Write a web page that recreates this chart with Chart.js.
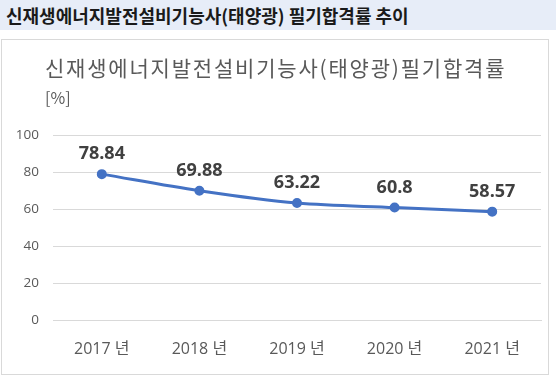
<!DOCTYPE html>
<html><head><meta charset="utf-8">
<script src="https://cdn.jsdelivr.net/npm/chart.js@4.4.1/dist/chart.umd.min.js"></script>
<style>
html,body{margin:0;padding:0;background:#fff;width:556px;height:382px;overflow:hidden;}
#hdr{position:absolute;left:0;top:0;width:556px;height:30px;background:#e7edf8;}
#hdr span{position:absolute;left:6px;top:2px;font:bold 18px "Noto Sans CJK KR",sans-serif;color:#1a1a1a;white-space:nowrap;}
#box{position:absolute;left:1px;top:39px;width:548px;height:336px;border:1px solid #d9d9d9;box-sizing:border-box;}
#wrap{position:absolute;left:2px;top:40px;width:546px;height:334px;}
</style></head>
<body>
<div id="hdr"><span id="hdrText"></span></div>
<div id="box"></div>
<div id="wrap"><canvas id="c" width="546" height="334"></canvas></div>
<script>
const pageHeading = "신재생에너지발전설비기능사(태양광) 필기합격률 추이";
const chartTitle = "신재생에너지발전설비기능사(태양광)필기합격률";
const unitLabel = "[%]";
const categories = ["2017 년", "2018 년", "2019 년", "2020 년", "2021 년"];
const passRates = [78.84, 69.88, 63.22, 60.8, 58.57];
const yTicks = [0, 20, 40, 60, 80, 100];

document.getElementById('hdrText').textContent = pageHeading;

const fontFam = '"Open Sans","Noto Sans CJK KR",sans-serif';

const titlePlugin = {
  id: 'titleText',
  afterDraw(chart) {
    const ctx = chart.ctx;
    ctx.save();
    ctx.fillStyle = '#595959';
    ctx.textBaseline = 'middle';
    ctx.textAlign = 'left';
    ctx.font = '21px "Noto Sans CJK KR",sans-serif';
    try { ctx.letterSpacing = '1.8px'; } catch (e) {}
    ctx.fillText(chartTitle, 43, 28);
    try { ctx.letterSpacing = '0px'; } catch (e) {}
    ctx.font = '16px "Noto Sans CJK KR",sans-serif';
    ctx.fillText(unitLabel, 43, 58);
    ctx.restore();
  }
};

const labelPlugin = {
  id: 'valueLabels',
  afterDatasetsDraw(chart) {
    const ctx = chart.ctx;
    const meta = chart.getDatasetMeta(0);
    ctx.save();
    ctx.fillStyle = '#404040';
    ctx.font = 'bold 18px ' + fontFam;
    ctx.textAlign = 'center';
    ctx.textBaseline = 'middle';
    meta.data.forEach((pt, i) => {
      ctx.fillText(String(passRates[i]), pt.x, pt.y - 20);
    });
    ctx.restore();
  }
};

new Chart(document.getElementById('c'), {
  type: 'line',
  data: {
    labels: categories,
    datasets: [{
      data: passRates,
      borderColor: '#4472c4',
      backgroundColor: '#4472c4',
      borderWidth: 3,
      pointRadius: 3.5,
      pointHoverRadius: 3.5,
      tension: 0.3,
      cubicInterpolationMode: 'monotone'
    }]
  },
  options: {
    responsive: false,
    animation: false,
    maintainAspectRatio: false,
    layout: { padding: { top: 95, left: 0, right: 7, bottom: 0 } },
    plugins: { legend: { display: false }, tooltip: { enabled: false }, title: { display: false } },
    scales: {
      x: {
        offset: true,
        grid: { display: false, drawTicks: false },
        border: { display: true, color: '#d9d9d9' },
        ticks: { color: '#595959', font: { size: 16, family: fontFam }, padding: 20 },
        afterFit(s) { s.height = 54; }
      },
      y: {
        min: 0, max: 100,
        afterBuildTicks(s) { s.ticks = yTicks.map(v => ({ value: v })); },
        grid: { color: '#d9d9d9', drawTicks: false },
        border: { display: false },
        ticks: { color: '#595959', font: { size: 13.5, family: fontFam }, padding: 14 },
        afterFit(s) { s.width = 51; }
      }
    }
  },
  plugins: [titlePlugin, labelPlugin]
});
</script>
</body></html>
